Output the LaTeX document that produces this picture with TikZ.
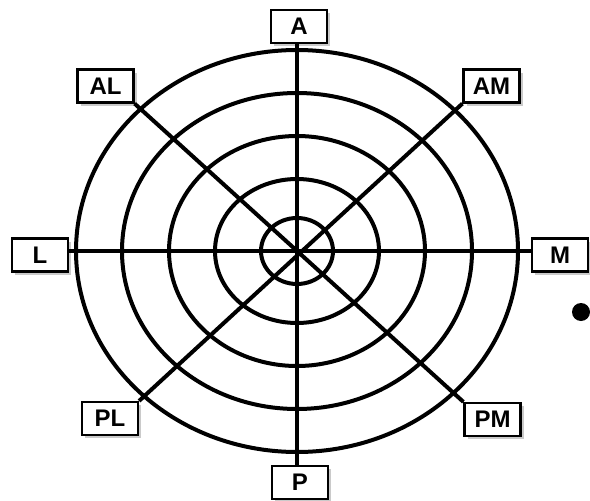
\documentclass[tikz,border=0pt]{standalone}
\usepackage{fontspec}
\setmainfont{Liberation Sans}
\usetikzlibrary{positioning, shadows}

\tikzset{
    dirbox/.style={draw, line width=2.2pt, fill=white, minimum width=56pt, minimum height=33pt, inner sep=0pt,
        font=\bfseries\fontsize{24}{24}\selectfont,
        drop shadow={shadow xshift=3pt, shadow yshift=-3pt, opacity=0.35, fill=black!60}},
    ring/.style={line width=4pt}
}

\begin{document}
\begin{tikzpicture}[x=1pt, y=-1pt]
        \useasboundingbox (0,0) rectangle (590,501);
        \coordinate (c) at (297,251);
        % rings
        \foreach \rx/\ry in {36/33, 82/72, 128/115, 175/158, 221/201}
            \draw[ring] (c) ellipse [x radius=\rx pt, y radius=\ry pt];
        % direction labels
        \node[dirbox] (A) at (299,26.5) {A};
        \node[dirbox] (P) at (300,482.5) {P};
        \node[dirbox] (L) at (40,255) {L};
        \node[dirbox] (M) at (560,255) {M};
        \node[dirbox] (AL) at (105.5,86) {AL};
        \node[dirbox] (AM) at (491.5,86) {AM};
        \node[dirbox] (PL) at (110,418.5) {PL};
        \node[dirbox] (PM) at (492.5,419.5) {PM};
        % spokes
        \draw[ring] (A.south -| c) -- (P.north -| c);
        \draw[ring] (L.east |- c) -- (M.west |- c);
        \draw[ring] (AL.south east) -- (PM.north west);
        \draw[ring] (AM.south west) -- (PL.north east);
        \node[circle, fill, inner sep=0pt, minimum size=18pt] (dot) at (581,312) {};
    \end{tikzpicture}
\end{document}
